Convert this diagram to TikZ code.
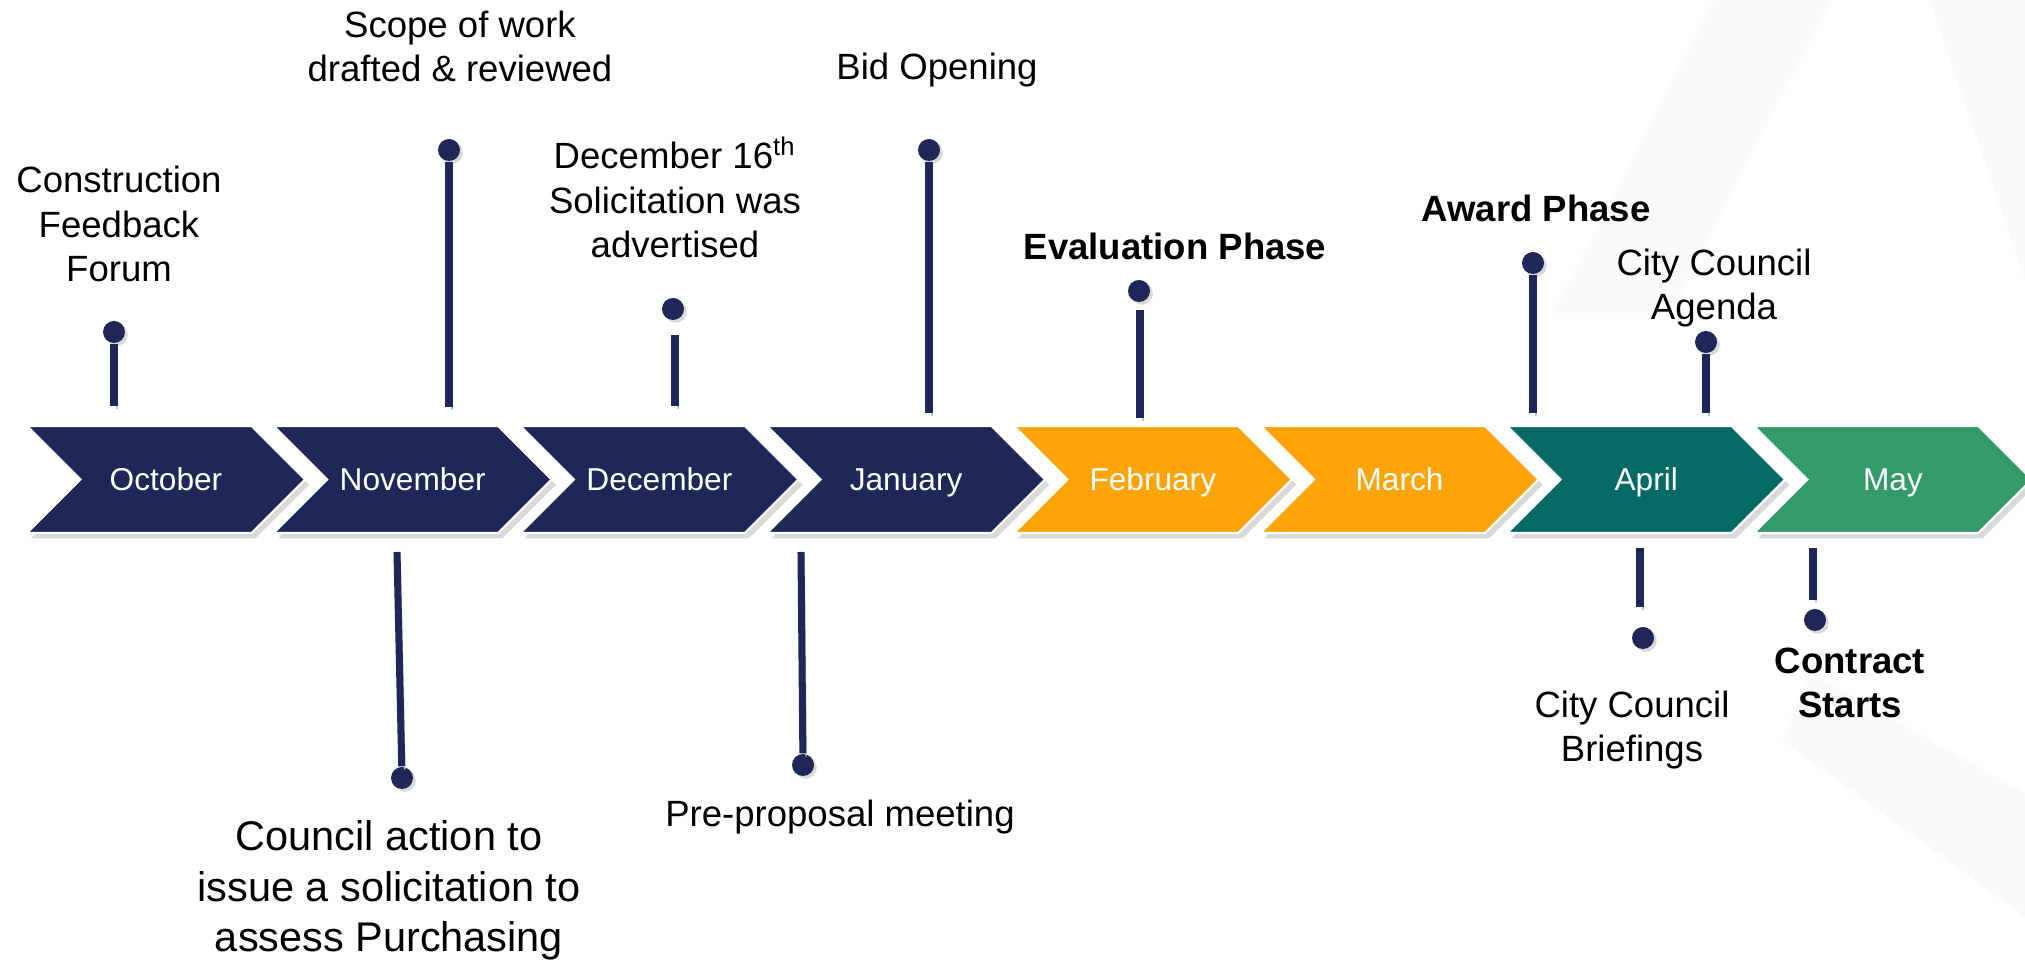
\documentclass[tikz,border=0pt]{standalone}
\usepackage{fontspec}
\setmainfont{Liberation Sans}
\usetikzlibrary{shapes.symbols,shadows}

\definecolor{navy}{RGB}{30,39,88}
\definecolor{amber}{RGB}{252,164,8}
\definecolor{deepteal}{RGB}{3,106,102}
\definecolor{leaf}{RGB}{53,154,105}

\tikzset{
    month/.style={signal, signal from=west, signal to=east, signal pointer angle=90,
        minimum width=2.78cm, minimum height=1.07cm, inner sep=0pt,
        text height=6.5pt, text depth=0pt,
        draw=white, line width=0.6pt, text=white, font=\fontsize{9}{11}\selectfont,
        drop shadow={shadow xshift=1.2pt, shadow yshift=-1.5pt, opacity=0.3}},
    pin/.style={circle, fill=navy, minimum size=0.22cm, inner sep=0pt,
        drop shadow={shadow xshift=0.8pt, shadow yshift=-0.8pt, opacity=0.3}},
    stick/.style={navy, line width=2pt,
        preaction={draw=black!22, transform canvas={shift={(0.9pt,-0.9pt)}}}},
    note/.style={align=center, anchor=base, font=\fontsize{10.4}{12.8}\selectfont},
    phase/.style={note, font=\bfseries\fontsize{10.4}{12.8}\selectfont},
    bignote/.style={note, font=\fontsize{11.8}{14.5}\selectfont}
}

\begin{document}
\begin{tikzpicture}
    \useasboundingbox (0,0) rectangle (20.25,9.61);

    % faint logo behind the timeline
    \fill[black!2] (17.14,9.61) -- (18.31,9.61) -- (16.70,6.48) -- (15.53,6.48) -- cycle;
    \fill[black!2] (19.30,9.61) -- (20.25,9.61) -- (20.25,6.80) -- cycle;
    \fill[black!2] (18.10,2.88) -- (20.25,1.68) -- (20.25,0.44) -- (17.82,2.21) -- cycle;

    % months
    \node at (1.660,4.815) [month, fill=navy] (oct) {October};
    \node at (4.127,4.815) [month, fill=navy] (nov) {November};
    \node at (6.594,4.815) [month, fill=navy] (dec) {December};
    \node at (9.061,4.815) [month, fill=navy] (jan) {January};
    \node at (11.528,4.815) [month, fill=amber] (feb) {February};
    \node at (13.995,4.815) [month, fill=amber] (mar) {March};
    \node at (16.462,4.815) [month, fill=deepteal] (apr) {April};
    \node at (18.929,4.815) [month, fill=leaf] (may) {May};

    % pins above
    \node at (1.14,6.29) [pin] (octpin) {};
    \coordinate (octend) at (1.14,5.55);
    \node at (1.19,6.79) [note] (octtxt) {Construction\\Feedback\\Forum};

    \node at (4.49,8.11) [pin] (novpin) {};
    \coordinate (novend) at (4.49,5.54);
    \node at (4.60,8.79) [note] (novtxt) {Scope of work\\drafted \& reviewed};

    \node at (6.73,6.52) [pin] (decpin) {};
    \coordinate (decstart) at (6.75,6.26);
    \coordinate (decend) at (6.75,5.55);
    \node at (6.75,7.03) [note] (dectxt) {December 16\textsuperscript{th}\\Solicitation was\\advertised};

    \node at (9.29,8.11) [pin] (janpin) {};
    \coordinate (janend) at (9.29,5.48);
    \node at (9.37,8.81) [note] (jantxt) {Bid Opening};

    \node at (11.39,6.70) [pin] (febpin) {};
    \coordinate (febstart) at (11.40,6.51);
    \coordinate (febend) at (11.40,5.43);
    \node at (11.75,7.01) [phase] (febtxt) {Evaluation Phase};

    \node at (15.33,6.98) [pin] (aprpin) {};
    \coordinate (aprend) at (15.33,5.48);
    \node at (15.36,7.39) [phase] (aprtxt) {Award Phase};

    \node at (17.06,6.19) [pin] (agendapin) {};
    \coordinate (agendaend) at (17.06,5.48);
    \node at (17.14,6.41) [note] (agendatxt) {City Council\\Agenda};

    \draw[stick] (octpin) -- (octend);
    \draw[stick] (novpin) -- (novend);
    \draw[stick] (decstart) -- (decend);
    \draw[stick] (janpin) -- (janend);
    \draw[stick] (febstart) -- (febend);
    \draw[stick] (aprpin) -- (aprend);
    \draw[stick] (agendapin) -- (agendaend);

    % pins below
    \coordinate (actstart) at (3.97,4.09);
    \node at (4.02,1.83) [pin] (actpin) {};
    \node at (3.89,0.09) [bignote] (acttxt) {Council action to\\issue a solicitation to\\assess Purchasing};

    \coordinate (prestart) at (8.01,4.09);
    \node at (8.03,1.96) [pin] (prepin) {};
    \node at (8.40,1.34) [note] (pretxt) {Pre-proposal meeting};

    \coordinate (briefstart) at (16.40,4.13);
    \coordinate (briefend) at (16.40,3.54);
    \node at (16.43,3.23) [pin] (briefpin) {};
    \node at (16.32,1.99) [note] (brieftxt) {City Council\\Briefings};

    \coordinate (startstart) at (18.13,4.13);
    \coordinate (startend) at (18.13,3.61);
    \node at (18.15,3.41) [pin] (startpin) {};
    \node at (18.50,2.43) [phase] (starttxt) {Contract\\Starts};

    \draw[stick] (actstart) -- (actpin);
    \draw[stick] (prestart) -- (prepin);
    \draw[stick] (briefstart) -- (briefend);
    \draw[stick] (startstart) -- (startend);
\end{tikzpicture}
\end{document}
